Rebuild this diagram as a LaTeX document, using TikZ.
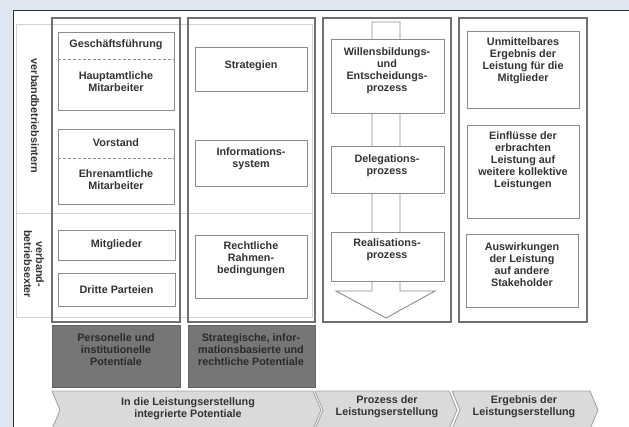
\documentclass[tikz,border=0pt]{standalone}
\usepackage{fontspec}
\setmainfont{Liberation Sans}
\usetikzlibrary{fit}
\definecolor{bgblue}{HTML}{DDE6F1}
\definecolor{txtc}{HTML}{333333}
\definecolor{colc}{HTML}{707070}
\definecolor{boxc}{HTML}{8C8C8C}
\definecolor{gridc}{HTML}{D2D2D2}
\definecolor{darkfill}{HTML}{767676}
\definecolor{darktxt}{HTML}{2A2A2A}
\definecolor{chevfill}{HTML}{DADADA}
\definecolor{chevdraw}{HTML}{A5A5A5}
\definecolor{framec}{HTML}{303030}
\begin{document}
\begin{tikzpicture}[x=1pt,y=-1pt,
  txt/.style={text=txtc, font=\fontsize{10.8}{12}\selectfont\bfseries, align=center, inner sep=0pt},
  dtxt/.style={text=darktxt, font=\fontsize{10.8}{12}\selectfont\bfseries, align=center, inner sep=0pt},
  colbox/.style={draw=colc, line width=1.4pt, inner sep=0pt},
  ibox/.style={draw=boxc, line width=0.9pt, fill=white, inner sep=0pt},
  darkbox/.style={fill=darkfill, draw=darkfill!85!black, line width=0.6pt, inner sep=0pt},
  chev/.style={fill=chevfill, draw=chevdraw, line width=0.9pt},
  divider/.style={draw=boxc, dash pattern=on 3pt off 2pt, line width=0.7pt}]
% background and frame
\fill[bgblue] (0,0) rectangle (629,427);
\useasboundingbox (0,0) rectangle (629,427);
\draw[framec, fill=white, line width=0.8pt] (13,10) rectangle (640,440);
% light grid
\draw[gridc, line width=0.9pt] (16,24) rectangle (312,317);
\draw[gridc, line width=0.9pt] (16,213) -- (312,213);
% row labels
\node[txt, rotate=-90] (lintern) at (35,116) {verbandbetriebsintern};
\node[txt, rotate=-90] (lextern) at (34,264) {verband-\\betriebsexter};
% column frames
\node[colbox, fit={(52,18) (180,322)}] (col1) {};
\node[colbox, fit={(188,18) (315,322)}] (col2) {};
\node[colbox, fit={(323,18) (451,322)}] (col3) {};
\node[colbox, fit={(459,18) (587,322)}] (col4) {};
% column 1
\node[ibox, fit={(58,32) (174,110)}] (gf) {};
\draw[divider] (gf.west |- 0,59) -- (gf.east |- 0,59);
\node[txt] (gf-t) at (116,45) {Geschäftsführung};
\node[txt] (ha-t) at (116,82) {Hauptamtliche\\Mitarbeiter};
\node[ibox, fit={(58,129) (174,204)}] (vs) {};
\draw[divider] (vs.west |- 0,158) -- (vs.east |- 0,158);
\node[txt] (vs-t) at (116,143) {Vorstand};
\node[txt] (ea-t) at (116,180) {Ehrenamtliche\\Mitarbeiter};
\node[ibox, fit={(58,230) (175,260)}] (mg) {};
\node[txt] (mg-t) at (mg.center) {Mitglieder};
\node[ibox, fit={(58,273) (175,306)}] (dp) {};
\node[txt] (dp-t) at (dp.center) {Dritte Parteien};
% column 2
\node[ibox, fit={(195,47) (307,91)}] (st) {};
\node[txt] (st-t) at (251,66) {Strategien};
\node[ibox, fit={(195,140) (307,186)}] (is) {};
\node[txt] (is-t) at (251,159) {Informations-\\system};
\node[ibox, fit={(195,235) (307,298)}] (rr) {};
\node[txt] (rr-t) at (251,259) {Rechtliche\\Rahmen-\\bedingungen};
% column 3: arrow
\draw[draw=boxc, line width=0.9pt, fill=white] (372,291) -- (372,22) -- (400,22) -- (400,291) -- (435,291) -- (386,318) -- (336,291) -- cycle;
\node[ibox, fit={(331,39) (444,113)}] (wb) {};
\node[txt] (wb-t) at (387,71) {Willensbildungs-\\und\\Entscheidungs-\\prozess};
\node[ibox, fit={(331,146) (444,193)}] (dg) {};
\node[txt] (dg-t) at (387,166) {Delegations-\\prozess};
\node[ibox, fit={(331,232) (444,281)}] (rl) {};
\node[txt] (rl-t) at (387,250) {Realisations-\\prozess};
% column 4
\node[ibox, fit={(467,31) (579,108)}] (um) {};
\node[txt] (um-t) at (523,61) {Unmittelbares\\Ergebnis der\\Leistung für die\\Mitglieder};
\node[ibox, fit={(467,125) (579,218)}] (ef) {};
\node[txt] (ef-t) at (523,161) {Einflüsse der\\erbrachten\\Leistung auf\\weitere kollektive\\Leistungen};
\node[ibox, fit={(466,234) (578,307)}] (aw) {};
\node[txt] (aw-t) at (522,265) {Auswirkungen\\der Leistung\\auf andere\\Stakeholder};
% dark boxes
\node[darkbox, fit={(52,325) (180,387)}] (pp) {};
\node[dtxt] (pp-t) at (116,350) {Personelle und\\institutionelle\\Potentiale};
\node[darkbox, fit={(188,325) (315,387)}] (sp) {};
\node[dtxt] (sp-t) at (251,350) {Strategische, infor-\\mationsbasierte und\\rechtliche Potentiale};
% chevrons
\draw[chev] (52,391) -- (313,391) -- (321,410) -- (313,429) -- (52,429) -- (60,410) -- cycle;
\node[txt] (c1-t) at (188,409) {In die Leistungserstellung\\integrierte Potentiale};
\draw[chev] (315,391) -- (449,391) -- (457,410) -- (449,429) -- (315,429) -- (323,410) -- cycle;
\node[txt] (c2-t) at (387,407) {Prozess der\\Leistungserstellung};
\draw[chev] (452,391) -- (590,391) -- (598,410) -- (590,429) -- (452,429) -- (460,410) -- cycle;
\node[txt] (c3-t) at (524,407) {Ergebnis der\\Leistungserstellung};
\end{tikzpicture}
\end{document}
